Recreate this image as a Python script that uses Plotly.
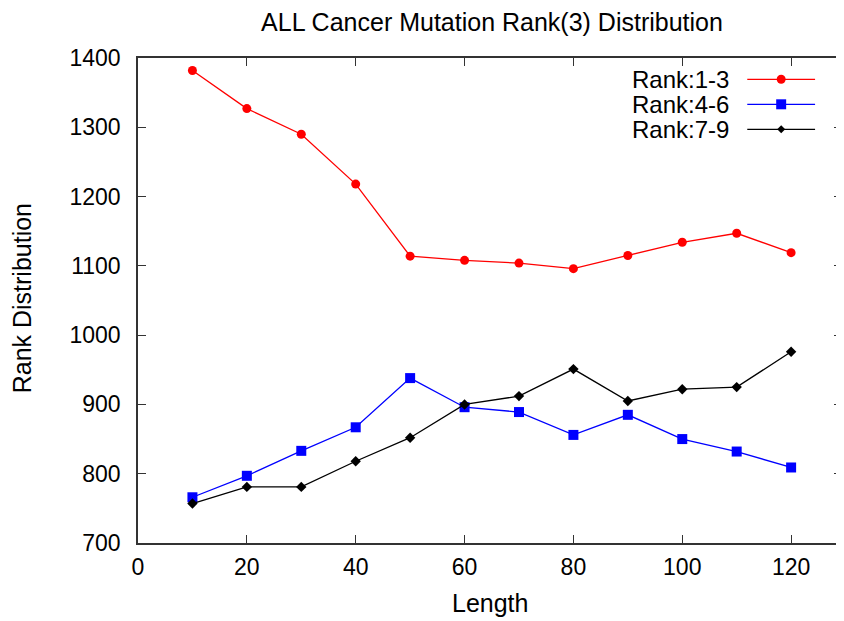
import plotly.graph_objects as go

lengths = [10, 20, 30, 40, 50, 60, 70, 80, 90, 100, 110, 120]
rank_1_3 = [1382, 1327, 1290, 1218, 1114, 1108, 1104, 1096, 1115, 1134, 1147, 1119]
rank_4_6 = [766, 797, 833, 867, 938, 896, 889, 856, 885, 850, 832, 809]
rank_7_9 = [757, 781, 781, 818, 852, 900, 912, 951, 905, 922, 925, 976]

series_names = ["Rank:1-3", "Rank:4-6", "Rank:7-9"]
series_colors = ["#ff0000", "#0000ff", "#000000"]
series_symbols = ["circle", "square", "diamond"]
series_sizes = [9, 10, 8]
x_ticks = [0, 20, 40, 60, 80, 100, 120]
y_ticks = [700, 800, 900, 1000, 1100, 1200, 1300, 1400]

FONT = "Liberation Sans, Arial, sans-serif"
OFF = 8  # page body margin
W, H = 844 - OFF, 621 - OFF
# plot area in page pixels
PL, PR, PT, PB = 138, 844, 58, 543
PW, PH = PR - PL, PB - PT

def px(x):
    return (x - PL) / PW

def py(y):
    return 1 - (y - PT) / PH

fig = go.Figure()
for name, vals, col, sym, sz in zip(series_names, [rank_1_3, rank_4_6, rank_7_9],
                                    series_colors, series_symbols, series_sizes):
    fig.add_trace(go.Scatter(x=lengths, y=vals, mode="lines+markers", name=name,
                             line=dict(color=col, width=1.3),
                             marker=dict(symbol=sym, size=sz, color=col),
                             showlegend=False, cliponaxis=False))

# gnuplot-style legend (text left, sample right)
leg_y = [79.3, 104.3, 129.3]
shapes = []
annotations = []
for i, (name, col, sym, sz) in enumerate(zip(series_names, series_colors, series_symbols, series_sizes)):
    y = leg_y[i]
    annotations.append(dict(x=px(733), y=py(y), xref="paper", yref="paper", text=name,
                            showarrow=False, xanchor="right", yanchor="middle",
                            font=dict(family=FONT, size=24, color="#000")))
    shapes.append(dict(type="line", xref="paper", yref="paper", x0=px(749), x1=px(817),
                       y0=py(y), y1=py(y), line=dict(color=col, width=1.3)))
    cx, cy = 783, y
    if sym == "circle":
        r = 4.5
        shapes.append(dict(type="circle", xref="paper", yref="paper",
                           x0=px(cx - r), x1=px(cx + r), y0=py(cy + r), y1=py(cy - r),
                           fillcolor=col, line=dict(color=col, width=0)))
    elif sym == "square":
        r = 5
        shapes.append(dict(type="rect", xref="paper", yref="paper",
                           x0=px(cx - r), x1=px(cx + r), y0=py(cy + r), y1=py(cy - r),
                           fillcolor=col, line=dict(color=col, width=0)))
    else:
        r = 4
        path = "M {} {} L {} {} L {} {} L {} {} Z".format(
            px(cx - r), py(cy), px(cx), py(cy - r), px(cx + r), py(cy), px(cx), py(cy + r))
        shapes.append(dict(type="path", xref="paper", yref="paper", path=path,
                           fillcolor=col, line=dict(color=col, width=0)))

# axis titles
annotations.append(dict(x=px(491.5), y=py(603), xref="paper", yref="paper", text="Length",
                        showarrow=False, xanchor="center", yanchor="middle",
                        font=dict(family=FONT, size=25, color="#000")))
annotations.append(dict(x=px(22), y=py(298), xref="paper", yref="paper", text="Rank Distribution",
                        showarrow=False, xanchor="center", yanchor="middle", textangle=-90,
                        font=dict(family=FONT, size=25, color="#000")))

axis_common = dict(showgrid=False, zeroline=False, showline=True, linecolor="#333",
                   linewidth=1.5, mirror="ticks", ticks="inside", ticklen=8,
                   tickcolor="#333", tickwidth=1.2,
                   tickfont=dict(family=FONT, size=23, color="#000"))

fig.update_layout(
    width=W, height=H,
    margin=dict(l=PL - OFF, r=844 - PR, t=PT - OFF, b=621 - PB),
    paper_bgcolor="white", plot_bgcolor="white",
    title=dict(text="ALL Cancer Mutation Rank(3) Distribution", x=(492 - OFF) / W,
               xanchor="center", xref="container",
               y=1 - (22 - OFF) / H, yanchor="middle", yref="container",
               font=dict(family=FONT, size=25, color="#000")),
    xaxis=dict(range=[0, 129.35], tickvals=x_ticks, ticklabelstandoff=3, **axis_common),
    yaxis=dict(range=[700, 1400], tickvals=y_ticks, ticklabelstandoff=11, **axis_common),
    shapes=shapes, annotations=annotations,
)

fig.write_html("out.html")
